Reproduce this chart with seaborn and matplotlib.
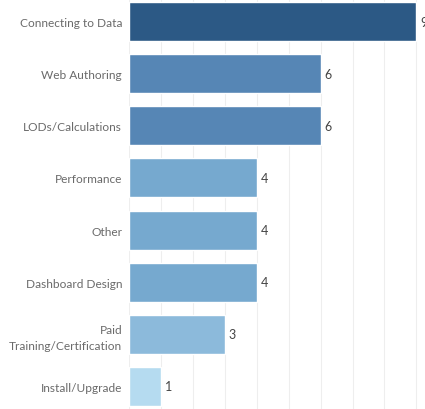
import seaborn as sns
import pandas as pd
import matplotlib.pyplot as plt

# categories and counts
categories = ["Connecting to Data", "Web Authoring", "LODs/Calculations", "Performance",
              "Other", "Dashboard Design", "Paid\nTraining/Certification", "Install/Upgrade"]
counts = [9, 6, 6, 4, 4, 4, 3, 1]
bar_colors = ["#2c5985", "#5686b5", "#5686b5", "#76a9cf",
              "#76a9cf", "#76a9cf", "#8cbadb", "#b5dbf0"]

df = pd.DataFrame({"category": categories, "count": counts})

sns.set_style("white")
plt.rcParams['font.family'] = ['Lato', 'DejaVu Sans']

fig = plt.figure(figsize=(4.25, 4.1), dpi=100)
ax = fig.add_axes([129 / 425, 0, 1 - 129 / 425, 1])

sns.barplot(data=df, y="category", x="count", hue="category",
            palette=dict(zip(categories, bar_colors)), legend=False,
            width=0.75, saturation=1, ax=ax, zorder=2)

# faint vertical gridlines at each unit
ax.set_xticks(range(0, 10))
ax.grid(axis="x", color="#eeeeee", linewidth=0.8, zorder=0)
ax.set_axisbelow(True)
ax.set_xlim(0, 9.27)
ax.set_ylim(7.44, -0.44)

for s in ax.spines.values():
    s.set_visible(False)

ax.set_xticklabels([])
ax.tick_params(axis="x", length=0)
ax.tick_params(axis="y", length=0, pad=5, labelsize=8.6, labelcolor="#6a6a6a")
ax.set_xlabel("")
ax.set_ylabel("")

# value labels at the bar ends
for i, v in enumerate(counts):
    ax.text(v + 0.12, i, str(v), va="center", ha="left", fontsize=9, color="#444444")

for lbl in ax.get_yticklabels():
    lbl.set_multialignment("right")
    lbl.set_linespacing(1.6)

fig.savefig("out.png", dpi=100)
